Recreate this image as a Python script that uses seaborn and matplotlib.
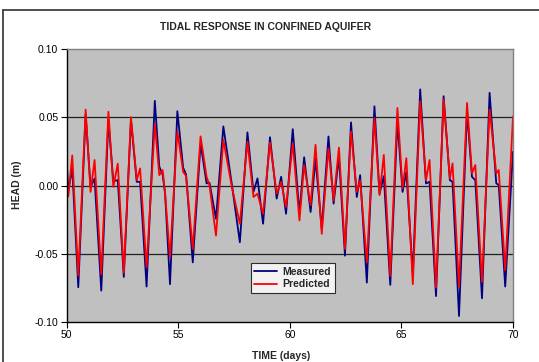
import numpy as np
import pandas as pd
import matplotlib
matplotlib.use("Agg")
import matplotlib.pyplot as plt
from matplotlib.lines import Line2D
import seaborn as sns

# values (peaks, troughs and shoulders of each tide)
time_days = [50.00, 50.07, 50.25, 50.52, 50.85, 51.07, 51.25, 51.55, 51.87, 52.09,
             52.29, 52.56, 52.88, 53.14, 53.29, 53.58, 53.95, 54.15, 54.30, 54.41,
             54.63, 54.96, 55.22, 55.35, 55.65, 56.00, 56.27, 56.40, 56.69, 57.02,
             57.40, 57.76, 58.10, 58.37, 58.55, 58.80, 59.11, 59.41, 59.61, 59.83,
             60.13, 60.43, 60.64, 60.93, 61.15, 61.43, 61.73, 61.96, 62.20, 62.47,
             62.74, 63.00, 63.15, 63.45, 63.79, 64.02, 64.21, 64.50, 64.82, 65.05,
             65.22, 65.51, 65.84, 66.10, 66.26, 66.55, 66.89, 67.17, 67.29, 67.58,
             67.94, 68.16, 68.31, 68.61, 68.95, 69.25, 69.36, 69.65, 70.00]

measured = [0.018, -0.004, 0.0125, -0.0745, 0.052, -0.001, 0.005, -0.077, 0.048, 0.003,
            0.004, -0.067, 0.048, 0.0027, 0.0027, -0.074, 0.062, 0.0138, 0.008, -0.006,
            -0.0723, 0.0544, 0.013, 0.008, -0.0563, 0.031, 0.0015, 0.002, -0.0244, 0.0433,
            0.001, -0.0416, 0.0389, -0.0047, 0.0052, -0.028, 0.0354, -0.0096, 0.0064, -0.0207,
            0.0413, -0.0207, 0.0207, -0.0194, 0.0194, -0.0317, 0.0359, -0.0133, 0.0212, -0.0514,
            0.0462, -0.0084, 0.0076, -0.0711, 0.058, -0.006, 0.0069, -0.0728, 0.047, -0.0047,
            0.010, -0.065, 0.0704, 0.0015, 0.0027, -0.081, 0.0654, 0.0039, 0.0027, -0.0956,
            0.0544, 0.0064, 0.0039, -0.0826, 0.0679, 0.0015, 0.0005, -0.074, 0.0248]

predicted = [-0.002, -0.008, 0.022, -0.066, 0.0556, -0.0047, 0.0187, -0.065, 0.054, -0.001,
             0.016, -0.064, 0.050, 0.004, 0.0125, -0.060, 0.045, 0.0076, 0.0113, -0.006,
             -0.0526, 0.0396, 0.010, 0.007, -0.0465, 0.036, 0.0064, 0.000, -0.0367, 0.0335,
             -0.001, -0.028, 0.0322, -0.0084, -0.006, -0.0207, 0.0315, -0.006, 0.0027, -0.0157,
             0.031, -0.0256, 0.015, -0.0145, 0.0298, -0.0354, 0.0273, -0.0108, 0.0278, -0.0465,
             0.0396, -0.0047, 0.0039, -0.0563, 0.0494, -0.007, 0.0224, -0.0662, 0.0568, -0.0022,
             0.020, -0.0723, 0.0617, 0.0039, 0.0187, -0.0748, 0.063, 0.0052, 0.0162, -0.074,
             0.0605, 0.0089, 0.015, -0.0705, 0.0556, 0.0089, 0.0113, -0.062, 0.0507]

x_ticks = [50, 55, 60, 65, 70]
y_ticks = [-0.10, -0.05, 0.00, 0.05, 0.10]

df = pd.DataFrame({
    "time": time_days * 2,
    "head": measured + predicted,
    "series": ["Measured"] * len(time_days) + ["Predicted"] * len(time_days),
})

sns.set_style("white")
plt.rcParams["font.family"] = ["Liberation Sans", "DejaVu Sans"]

fig = plt.figure(figsize=(5.39, 3.62), dpi=100)
ax = fig.add_axes([0.1237, 0.1105, 0.8281, 0.7541])
ax.set_facecolor("#C0C0C0")

sns.lineplot(data=df, x="time", y="head", hue="series", estimator=None, sort=False,
             palette={"Measured": "#000080", "Predicted": "#FF0000"},
             linewidth=1.3, ax=ax)
for ln in ax.get_lines():
    ln.set_solid_joinstyle("round")

ax.set_xlim(50, 70)
ax.set_ylim(-0.10, 0.10)
ax.set_xticks(x_ticks)
ax.set_yticks(y_ticks)
ax.set_yticklabels([f"{v:.2f}" for v in y_ticks])
ax.tick_params(axis="both", direction="out", length=4, width=0.8, labelsize=7.5,
               colors="black", pad=2, bottom=True, left=True)
for v in [-0.05, 0.0, 0.05]:
    ax.axhline(v, color="#202020", lw=0.9, zorder=0.5)
ax.spines["left"].set_color("black")
ax.spines["bottom"].set_color("black")
ax.spines["top"].set_color("#808080")
ax.spines["right"].set_color("#808080")
for s in ax.spines.values():
    s.set_linewidth(1.0)
ax.set_xlabel("")
ax.set_ylabel("")

leg = ax.legend(loc="upper left", bbox_to_anchor=(0.412, 0.216), borderaxespad=0,
                frameon=True, fancybox=False, prop={"weight": "bold", "size": 7.5},
                handlelength=2.2, labelspacing=0.25, borderpad=0.35, handletextpad=0.5)
leg.get_frame().set_edgecolor("black")
leg.get_frame().set_facecolor("white")
leg.get_frame().set_linewidth(0.8)

fig.text(0.492, 0.925, "TIDAL RESPONSE IN CONFINED AQUIFER", ha="center", va="center",
         fontsize=7.5, fontweight="bold")
fig.text(0.521, 0.017, "TIME (days)", ha="center", va="center", fontsize=7.5, fontweight="bold")
fig.text(0.032, 0.49, "HEAD (m)", ha="center", va="center", rotation=90,
         fontsize=7.5, fontweight="bold")

# outer chart frame (top and left edges visible)
fig.add_artist(Line2D([3 / 539, 1.0], [1 - 10 / 362] * 2, color="#303030", lw=1.2))
fig.add_artist(Line2D([3 / 539] * 2, [0.0, 1 - 10 / 362], color="#303030", lw=1.2))

fig.savefig("out.png", dpi=100)
